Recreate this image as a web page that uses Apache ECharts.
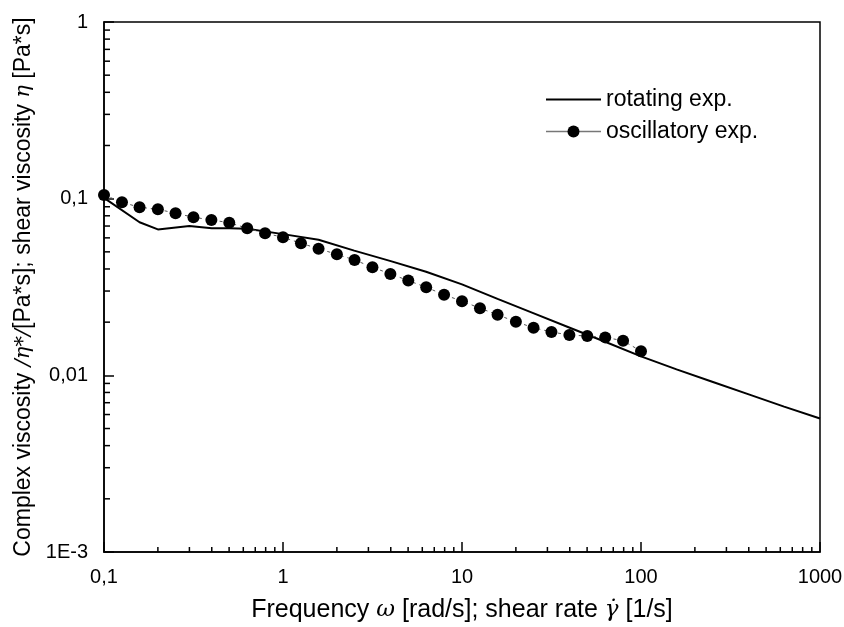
<!DOCTYPE html>
<html>
<head>
<meta charset="utf-8">
<script src="https://cdn.jsdelivr.net/npm/echarts@6/dist/echarts.min.js"></script>
<style>
  html, body { margin: 0; padding: 0; background: #fff; }
  #chart { width: 844px; height: 627px; }
</style>
</head>
<body>
<div id="chart"></div>
<script>
// oscillatory experiment: frequency [rad/s] and complex viscosity [Pa*s]
const oscFreq = [0.1, 0.126, 0.158, 0.2, 0.251, 0.316, 0.398, 0.501, 0.631, 0.794,
  1, 1.26, 1.58, 2, 2.51, 3.16, 3.98, 5.01, 6.31, 7.94,
  10, 12.6, 15.8, 20, 25.1, 31.6, 39.8, 50.1, 63.1, 79.4, 100];
const oscVisc = [0.105, 0.0954, 0.0894, 0.0871, 0.0827, 0.0785, 0.0758, 0.0731, 0.068, 0.0637,
  0.0605, 0.0559, 0.0521, 0.0484, 0.045, 0.0409, 0.0375, 0.0344, 0.0315, 0.0286,
  0.0263, 0.024, 0.022, 0.0201, 0.0186, 0.0176, 0.0169, 0.0167, 0.0164, 0.0157, 0.0137];

// rotating experiment: shear rate [1/s] and shear viscosity [Pa*s]
const rotRate = [0.1, 0.158, 0.2, 0.3, 0.4, 0.5, 0.63, 1, 1.58, 2.5, 4, 6.3,
  10, 15.8, 25, 40, 63, 100, 158, 250, 400, 630, 1000];
const rotVisc = [0.101, 0.0735, 0.067, 0.070, 0.068, 0.068, 0.0675, 0.063, 0.0585, 0.0508, 0.0443, 0.0386,
  0.0327, 0.0271, 0.0225, 0.0186, 0.0155, 0.0128, 0.0108, 0.0092, 0.0078, 0.00665, 0.0057];

const seriesNames = ["rotating exp.", "oscillatory exp."];

// tick labels by decade exponent
const xTickLabels = { "-1": "0,1", "0": "1", "1": "10", "2": "100", "3": "1000" };
const yTickLabels = { "-3": "1E-3", "-2": "0,01", "-1": "0,1", "0": "1" };

// minor tick positions
const xMinorTicks = [0.2, 0.3, 0.4, 0.5, 0.6, 0.7, 0.8, 0.9,
  2, 3, 4, 5, 6, 7, 8, 9, 20, 30, 40, 50, 60, 70, 80, 90,
  200, 300, 400, 500, 600, 700, 800, 900];
const yMinorTicks = [0.002, 0.003, 0.004, 0.005, 0.006, 0.007, 0.008, 0.009,
  0.02, 0.03, 0.04, 0.05, 0.06, 0.07, 0.08, 0.09,
  0.2, 0.3, 0.4, 0.5, 0.6, 0.7, 0.8, 0.9];

const FONT = "Liberation Sans";
const chart = echarts.init(document.getElementById("chart"));

function decade(v) {
  return String(Math.round(Math.log10(v)));
}

function minorTick(dx, dy) {
  return (params, api) => {
    const p = api.coord([api.value(0), api.value(1)]);
    return {
      type: "line",
      shape: { x1: p[0], y1: p[1], x2: p[0] + dx, y2: p[1] + dy },
      style: { stroke: "#000", lineWidth: 1.5 },
    };
  };
}

chart.setOption({
  animation: false,
  backgroundColor: "#fff",
  textStyle: { fontFamily: FONT, color: "#000" },
  grid: {
    left: 104, right: 24, top: 22, bottom: 75,
    outerBoundsMode: "none",
    containLabel: false,
    show: true, borderColor: "#000", borderWidth: 1.5,
  },
  legend: {
    data: [
      { name: seriesNames[0], itemStyle: { opacity: 0 } },
      { name: seriesNames[1], lineStyle: { type: "solid", color: "#777", width: 1.5 } },
    ],
    orient: "vertical",
    left: 540, top: 83,
    itemWidth: 55, itemHeight: 15, itemGap: 9,
    textStyle: { fontFamily: FONT, fontSize: 23, color: "#000" },
  },
  xAxis: {
    type: "log", logBase: 10, min: 0.1, max: 1000,
    name: "{a|Frequency }{i|ω}{a| [rad/s]; shear rate }{i|γ̇}{a| [1/s]}",
    nameLocation: "middle", nameGap: 46,
    nameTextStyle: {
      rich: {
        a: { fontFamily: FONT, fontSize: 25, color: "#000" },
        i: { fontFamily: "DejaVu Serif", fontStyle: "italic", fontSize: 23, color: "#000" },
      },
    },
    axisLine: { lineStyle: { color: "#000", width: 1.5 } },
    axisTick: { inside: true, length: 10, lineStyle: { color: "#000", width: 1.5 } },
    axisLabel: {
      fontFamily: FONT, fontSize: 20, color: "#000", margin: 15,
      formatter: (v) => xTickLabels[decade(v)] || "",
    },
    splitLine: { show: false },
  },
  yAxis: {
    type: "log", logBase: 10, min: 0.001, max: 1,
    name: "{a|Complex viscosity }{i|/η*/}{a|[Pa*s]; shear viscosity }{i|η}{a| [Pa*s]}",
    nameLocation: "middle", nameGap: 68, nameRotate: 90,
    nameTextStyle: {
      rich: {
        a: { fontFamily: FONT, fontSize: 23, color: "#000" },
        i: { fontFamily: "DejaVu Serif", fontStyle: "italic", fontSize: 21, color: "#000" },
      },
    },
    axisLine: { lineStyle: { color: "#000", width: 1.5 } },
    axisTick: { inside: true, length: 10, lineStyle: { color: "#000", width: 1.5 } },
    axisLabel: {
      fontFamily: FONT, fontSize: 20, color: "#000", margin: 16,
      formatter: (v) => yTickLabels[decade(v)] || "",
    },
    splitLine: { show: false },
  },
  series: [
    {
      name: seriesNames[0],
      type: "line",
      symbol: "none",
      data: rotRate.map((x, i) => [x, rotVisc[i]]),
      lineStyle: { color: "#000", width: 2 },
      itemStyle: { color: "#000" },
      z: 2,
    },
    {
      name: seriesNames[1],
      type: "line",
      symbol: "circle",
      symbolSize: 12,
      data: oscFreq.map((x, i) => [x, oscVisc[i]]),
      lineStyle: { color: "#555", width: 1, type: [3, 4] },
      itemStyle: { color: "#000" },
      z: 3,
    },
    {
      // minor ticks on the x axis
      type: "custom",
      silent: true,
      data: xMinorTicks.map((v) => [v, 0.001]),
      renderItem: minorTick(0, -5),
      z: 5,
    },
    {
      // minor ticks on the y axis
      type: "custom",
      silent: true,
      data: yMinorTicks.map((v) => [0.1, v]),
      renderItem: minorTick(6, 0),
      z: 5,
    },
  ],
});
</script>
</body>
</html>
